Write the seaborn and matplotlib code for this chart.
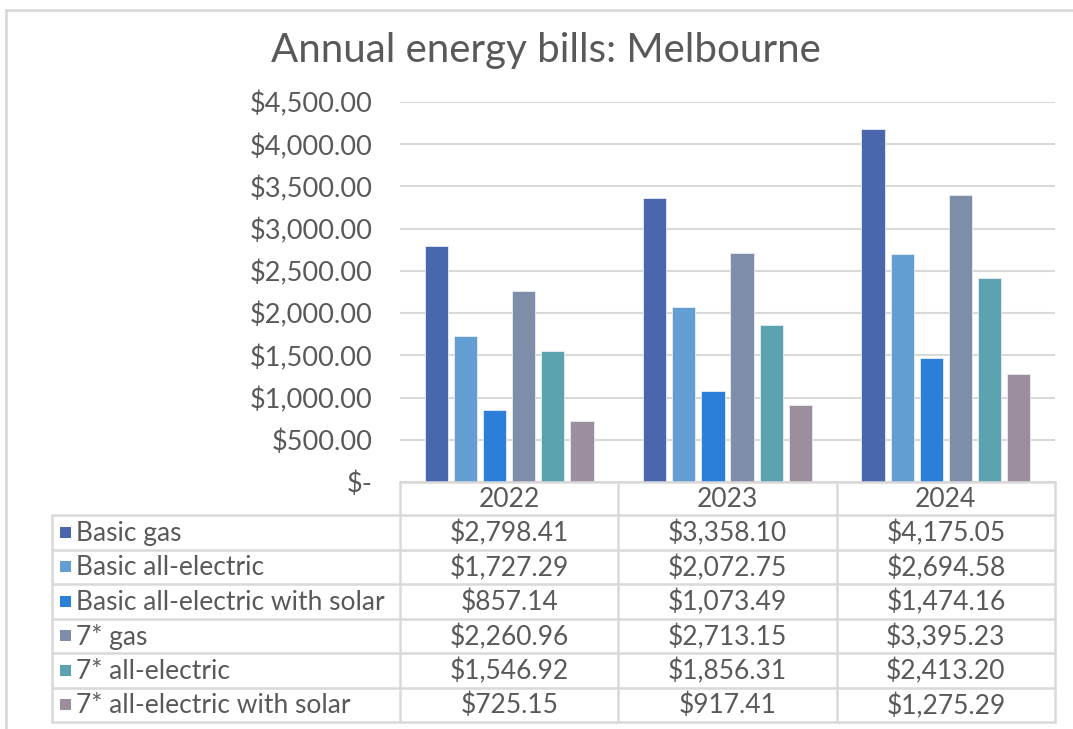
import numpy as np
import pandas as pd
import matplotlib
matplotlib.use("Agg")
import matplotlib.pyplot as plt
import seaborn as sns
from matplotlib.ticker import FuncFormatter
from matplotlib.patches import Rectangle

# data
years = ["2022", "2023", "2024"]
series = ["Basic gas", "Basic all-electric", "Basic all-electric with solar",
          "7* gas", "7* all-electric", "7* all-electric with solar"]
basic_gas = [2798.41, 3358.10, 4175.05]
basic_elec = [1727.29, 2072.75, 2694.58]
basic_elec_solar = [857.14, 1073.49, 1474.16]
star_gas = [2260.96, 2713.15, 3395.23]
star_elec = [1546.92, 1856.31, 2413.20]
star_elec_solar = [725.15, 917.41, 1275.29]
colors = ["#4A67AE", "#629ED2", "#2B7FD8", "#7F8EA8", "#5AA3AF", "#9D8E9E"]

values = [basic_gas, basic_elec, basic_elec_solar, star_gas, star_elec, star_elec_solar]
df = pd.DataFrame({
    "year": years * len(series),
    "series": [s for s in series for _ in years],
    "bill": [v for vals in values for v in vals],
})

sns.set_theme(style="white")
plt.rcParams["font.family"] = ["Lato", "DejaVu Sans"]
txt = "#595959"
grid_c = "#D9D9D9"
fs = 19

W, H = 1073, 729
fig = plt.figure(figsize=(W / 100, H / 100), dpi=100)

# plot area in pixels
L, R, T, B = 400, 1055, 102, 482
ax = fig.add_axes([L / W, 1 - B / H, (R - L) / W, (B - T) / H])

sns.barplot(data=df, x="year", y="bill", hue="series", palette=colors,
            saturation=1, width=0.8, gap=0.2, edgecolor="#E8ECF4", linewidth=0.6,
            ax=ax, legend=False, zorder=3)

ax.set_ylim(0, 4500)
ax.set_yticks(np.arange(0, 4501, 500))
ax.yaxis.set_major_formatter(FuncFormatter(lambda v, p: "$-" if v == 0 else f"${v:,.2f}"))
ax.tick_params(axis="y", length=0, pad=20, labelsize=19.5, labelcolor=txt)
ax.set_xticks([])
ax.set_xlabel("")
ax.set_ylabel("")
ax.grid(axis="y", color=grid_c, linewidth=1.5, zorder=0)
ax.set_axisbelow(True)
for s in ax.spines.values():
    s.set_visible(False)

# overlay for title, table and border
ov = fig.add_axes([0, 0, 1, 1])
ov.set_xlim(0, W)
ov.set_ylim(H, 0)
ov.set_axis_off()

ov.plot([6, 6, W], [H, 10, 10], color=grid_c, linewidth=2, solid_joinstyle="miter")
ov.text(546, 50, "Annual energy bills: Melbourne", ha="center", va="center",
        fontsize=29, color=txt)

col_x = np.linspace(L, R, len(years) + 1)
row_top = 515
row_h = (722 - row_top) / len(series)
row_y = row_top + row_h * np.arange(len(series) + 1)
lab_x = 52
lc = dict(color=grid_c, linewidth=1.8)

# header row
ov.plot([L, R], [B, B], **lc)
for x in col_x:
    ov.plot([x, x], [B, row_y[-1]], **lc)
for i, y in enumerate(years):
    ov.text((col_x[i] + col_x[i + 1]) / 2, (B + row_top) / 2 + 1, y,
            ha="center", va="center", fontsize=fs, color=txt)

# body rows
for y in row_y:
    ov.plot([lab_x, R], [y, y], **lc)
ov.plot([lab_x, lab_x], [row_top, row_y[-1]], **lc)

for r, name in enumerate(series):
    yc = (row_y[r] + row_y[r + 1]) / 2
    ov.add_patch(Rectangle((60, yc - 5.5), 11, 11, facecolor=colors[r], edgecolor="none"))
    ov.text(76, yc + 1, name, ha="left", va="center", fontsize=fs, color=txt)
    for c in range(len(years)):
        ov.text((col_x[c] + col_x[c + 1]) / 2, yc + 1, f"${values[r][c]:,.2f}",
                ha="center", va="center", fontsize=fs, color=txt)

fig.savefig("out.png", dpi=100)
